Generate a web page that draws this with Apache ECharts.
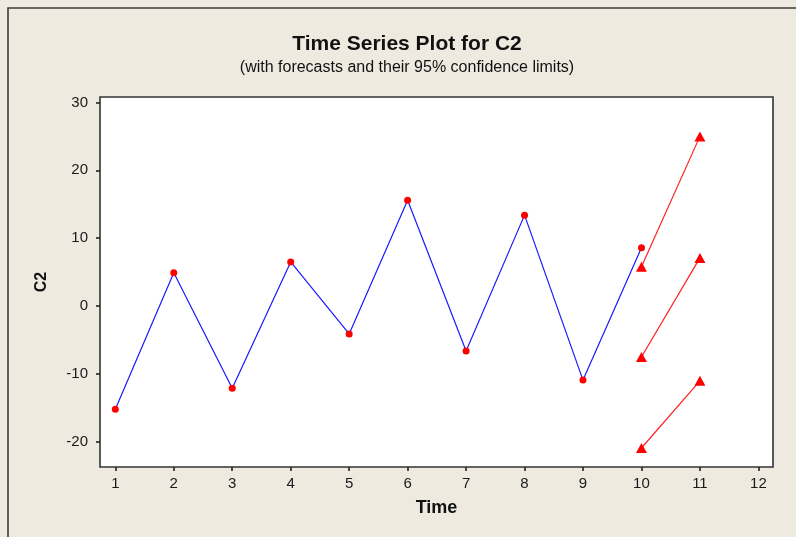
<!DOCTYPE html>
<html>
<head>
<meta charset="utf-8">
<script src="https://cdn.jsdelivr.net/npm/echarts@6/dist/echarts.min.js"></script>
<style>
  html, body { margin: 0; padding: 0; background: #EEEAE0; }
  #chart { width: 796px; height: 537px; }
</style>
</head>
<body>
<div id="chart"></div>
<script>
// Observed series C2
const time = [1, 2, 3, 4, 5, 6, 7, 8, 9, 10];
const c2 = [-15.2, 4.9, -12.1, 6.5, -4.1, 15.6, -6.6, 13.4, -10.9, 8.6];

// Forecasts and 95% limits
const forecastTime = [10, 11];
const upperLimit = [5.8, 25.0];
const forecast = [-7.5, 7.1];
const lowerLimit = [-20.9, -11.0];

// Axis tick labels
const xTicks = [1, 2, 3, 4, 5, 6, 7, 8, 9, 10, 11, 12];
const yTicks = [-20, -10, 0, 10, 20, 30];

const FONT = 'Liberation Sans, Arial, sans-serif';
const pair = (xs, ys) => xs.map((x, i) => [x, ys[i]]);

const chart = echarts.init(document.getElementById('chart'), null, { renderer: 'canvas' });

const forecastSeries = [upperLimit, forecast, lowerLimit].map((vals) => ({
  type: 'line',
  data: pair(forecastTime, vals),
  symbol: 'triangle',
  symbolSize: [11, 10],
  showSymbol: true,
  itemStyle: { color: '#FF0000' },
  lineStyle: { color: '#FF2020', width: 1.2 },
  z: 3,
  animation: false
}));

chart.setOption({
  backgroundColor: '#EEEAE0',
  animation: false,
  title: [
    {
      text: 'Time Series Plot for C2',
      left: 407,
      top: 34,
      padding: 0,
      textAlign: 'center',
      textStyle: { fontFamily: FONT, fontSize: 21, fontWeight: 'bold', color: '#111111' }
    },
    {
      text: '(with forecasts and their 95% confidence limits)',
      left: 407,
      top: 60,
      padding: 0,
      textAlign: 'center',
      textStyle: { fontFamily: FONT, fontSize: 16, fontWeight: 'normal', color: '#111111' }
    }
  ],
  graphic: [
    {
      type: 'polyline',
      shape: { points: [[8, 537], [8, 8], [796, 8]] },
      style: { stroke: '#3C3C3C', lineWidth: 1.6, fill: null },
      silent: true
    }
  ],
  grid: {
    left: 100,
    top: 97,
    right: 23,
    bottom: 70,
    show: true,
    backgroundColor: '#FFFFFF',
    borderColor: '#333333',
    borderWidth: 1.6
  },
  xAxis: {
    type: 'value',
    min: 0.738,
    max: 12.25,
    name: 'Time',
    nameLocation: 'middle',
    nameGap: 32,
    nameTextStyle: { fontFamily: FONT, fontSize: 18, fontWeight: 'bold', color: '#111111' },
    axisLine: { show: false, onZero: false },
    splitLine: { show: false },
    axisTick: {
      show: true,
      length: 4,
      customValues: xTicks,
      lineStyle: { color: '#222222', width: 1.6 }
    },
    axisLabel: {
      customValues: xTicks,
      margin: 9,
      fontFamily: FONT,
      fontSize: 15,
      color: '#1A1A1A'
    }
  },
  yAxis: {
    type: 'value',
    min: -23.7,
    max: 30.8,
    name: 'C2',
    nameLocation: 'middle',
    nameGap: 50,
    nameTextStyle: { fontFamily: FONT, fontSize: 16, fontWeight: 'bold', color: '#111111' },
    axisLine: { show: false, onZero: false },
    splitLine: { show: false },
    axisTick: {
      show: true,
      length: 4,
      customValues: yTicks,
      lineStyle: { color: '#222222', width: 1.6 }
    },
    axisLabel: {
      customValues: yTicks,
      margin: 12,
      fontFamily: FONT,
      fontSize: 15,
      color: '#1A1A1A'
    }
  },
  series: [
    {
      type: 'line',
      data: pair(time, c2),
      symbol: 'circle',
      symbolSize: 7,
      showSymbol: true,
      itemStyle: { color: '#FF0000' },
      lineStyle: { color: '#1A1AFF', width: 1.2 },
      z: 4,
      animation: false
    },
    ...forecastSeries
  ]
});
</script>
</body>
</html>
